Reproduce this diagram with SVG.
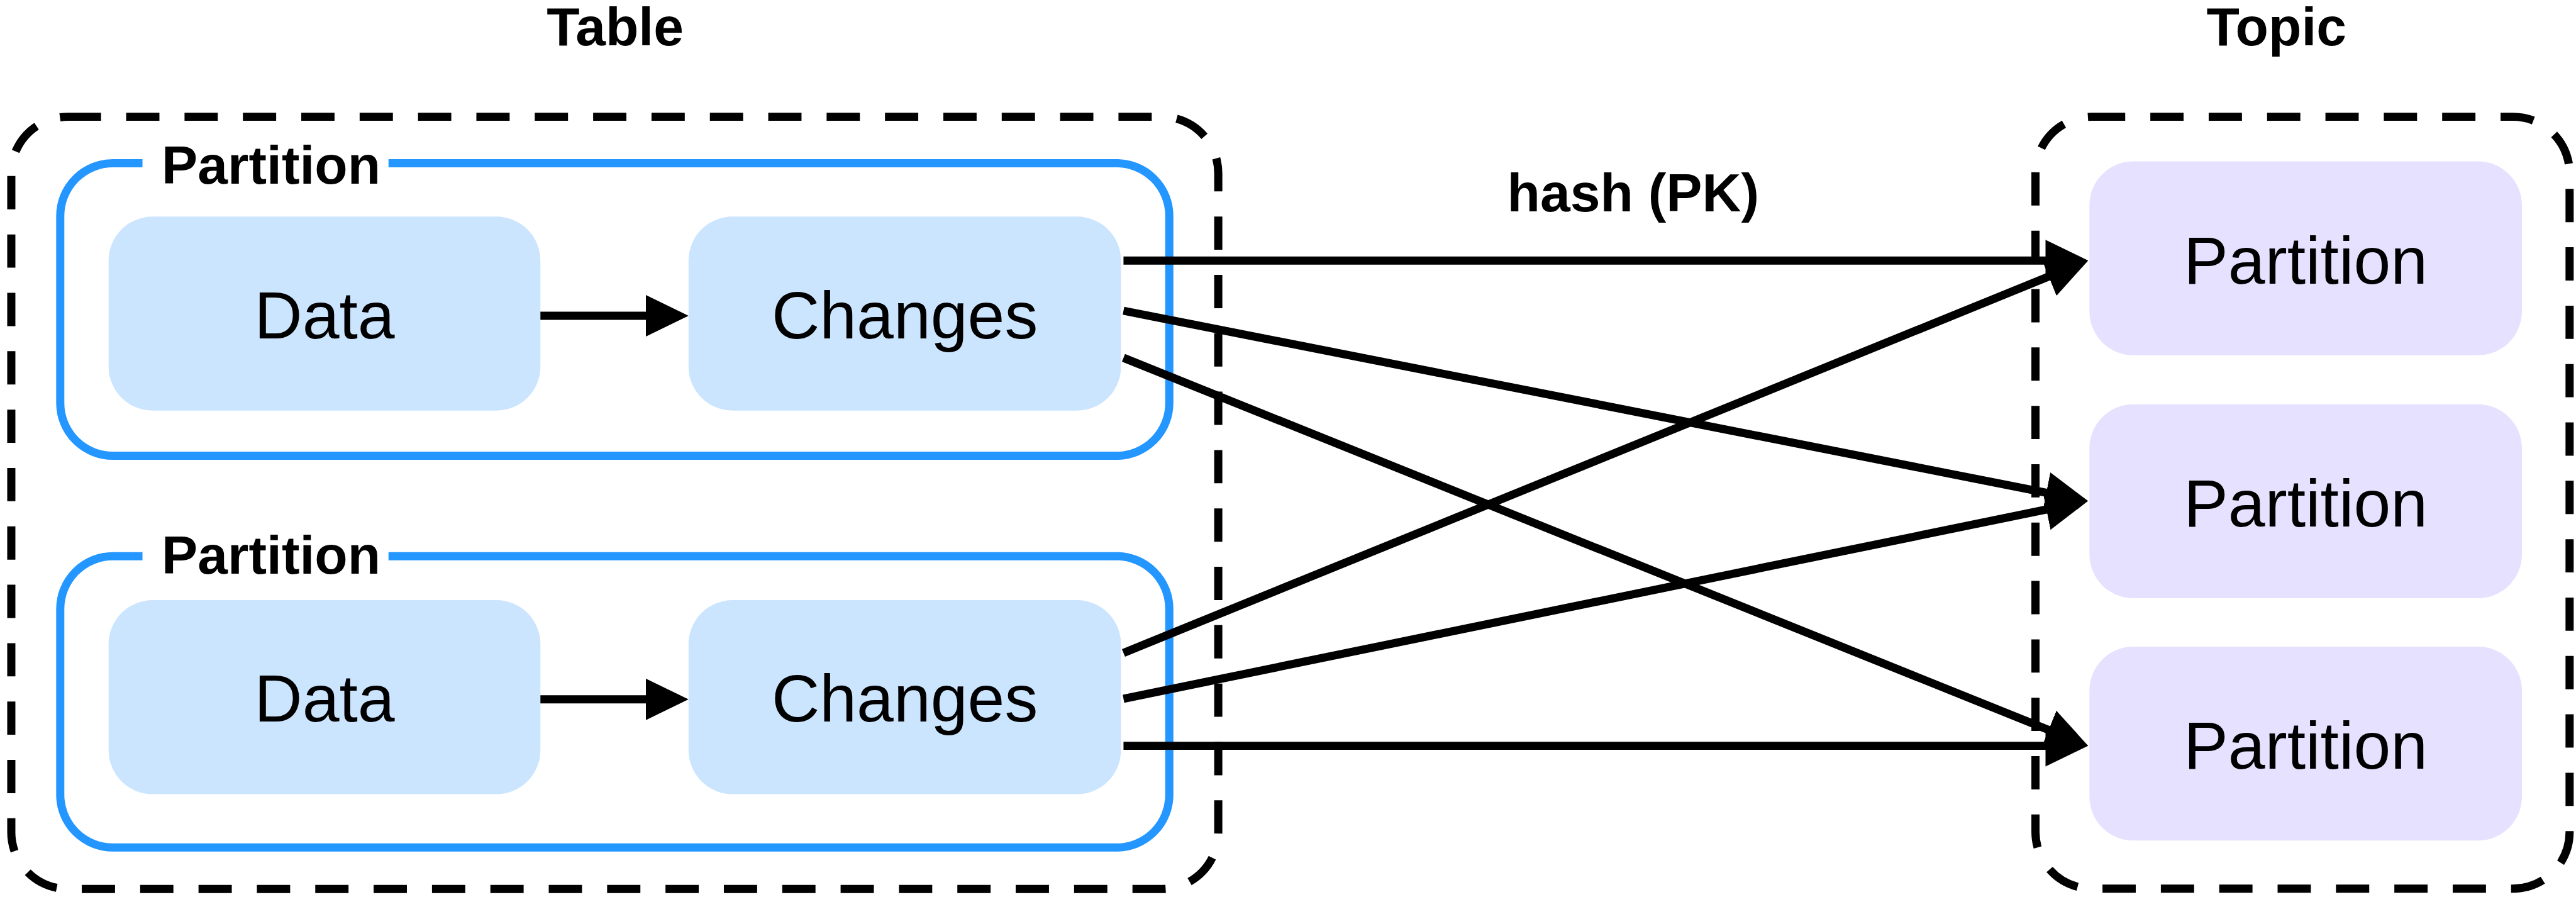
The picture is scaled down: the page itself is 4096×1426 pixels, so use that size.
<svg xmlns="http://www.w3.org/2000/svg" width="4096" height="1426" viewBox="0 0 4096 1426">
<defs>
<style>
.lbl{font-family:"Liberation Sans",Arial,sans-serif;font-weight:bold;font-size:86px;fill:#000;text-anchor:middle}
.txt{font-family:"Liberation Sans",Arial,sans-serif;font-size:106px;fill:#000;text-anchor:middle}
.dash{fill:none;stroke:#000;stroke-width:13;stroke-dasharray:53 40}
.part{fill:#fff;stroke:#2496FF;stroke-width:13}
.blue{fill:#CCE5FF}
.lav{fill:#E5E1FF}
.conn{fill:none;stroke:#000;stroke-width:13}
</style>
<marker id="arr" viewBox="0 0 68 66" refX="13" refY="33" markerWidth="68" markerHeight="66" markerUnits="userSpaceOnUse" orient="auto">
<path d="M0,0 L68,33 L0,66 Z" fill="#000"/>
</marker>
</defs>
<rect width="4096" height="1426" fill="#fff"/>
<g transform="scale(0.998)">
<g id="table">
<rect class="dash" x="18" y="186" width="1923" height="1230" rx="90"/>
<text class="lbl" x="980" y="72">Table</text>
</g>
<g id="partition1">
<rect class="part" x="96" y="260" width="1767" height="466" rx="84"/>
<rect x="227" y="245" width="392" height="30" fill="#fff"/>
<text class="lbl" x="432" y="293">Partition</text>
</g>
<g id="data1">
<rect class="blue" x="173" y="345" width="688" height="309" rx="70"/>
<text class="txt" x="517" y="539">Data</text>
</g>
<g id="changes1">
<rect class="blue" x="1097" y="345" width="689" height="309" rx="70"/>
<text class="txt" x="1441.5" y="539">Changes</text>
</g>
<g id="partition2">
<rect class="part" x="96" y="886" width="1767" height="464" rx="84"/>
<rect x="227" y="871" width="392" height="30" fill="#fff"/>
<text class="lbl" x="432" y="914">Partition</text>
</g>
<g id="data2">
<rect class="blue" x="173" y="956" width="688" height="309" rx="70"/>
<text class="txt" x="517" y="1149">Data</text>
</g>
<g id="changes2">
<rect class="blue" x="1097" y="956" width="689" height="309" rx="70"/>
<text class="txt" x="1441.5" y="1149">Changes</text>
</g>
<g id="topic">
<rect class="dash" x="3243" y="186" width="851" height="1229.5" rx="90"/>
<text class="lbl" x="3627" y="72">Topic</text>
</g>
<g id="tpart1">
<rect class="lav" x="3329" y="257" width="689" height="309" rx="70"/>
<text class="txt" x="3673.5" y="452">Partition</text>
</g>
<g id="tpart2">
<rect class="lav" x="3329" y="644" width="689" height="309" rx="70"/>
<text class="txt" x="3673.5" y="838.5">Partition</text>
</g>
<g id="tpart3">
<rect class="lav" x="3329" y="1030" width="689" height="309" rx="70"/>
<text class="txt" x="3673.5" y="1224">Partition</text>
</g>
<g id="connectors">
<line class="conn" x1="861" y1="503" x2="1042" y2="503" marker-end="url(#arr)"/>
<line class="conn" x1="861" y1="1114" x2="1042" y2="1114" marker-end="url(#arr)"/>
<line class="conn" x1="1790" y1="415" x2="3272" y2="415" marker-end="url(#arr)"/>
<line class="conn" x1="1790" y1="495" x2="3273" y2="787.4" marker-end="url(#arr)"/>
<line class="conn" x1="1790" y1="570" x2="3276" y2="1167.5" marker-end="url(#arr)"/>
<line class="conn" x1="1790" y1="1040" x2="3276.1" y2="435.7" marker-end="url(#arr)"/>
<line class="conn" x1="1790" y1="1113" x2="3273.1" y2="809" marker-end="url(#arr)"/>
<line class="conn" x1="1790" y1="1188" x2="3272" y2="1188" marker-end="url(#arr)"/>
<text class="lbl" x="2602" y="337">hash (PK)</text>
</g>
</g>
</svg>
